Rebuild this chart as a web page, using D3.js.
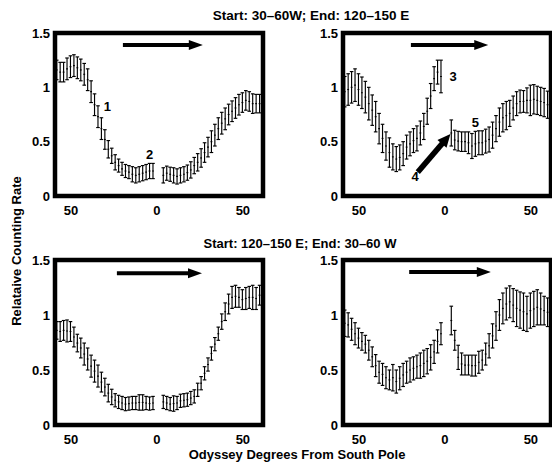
<!DOCTYPE html>
<html>
<head>
<meta charset="utf-8">
<script src="https://cdn.jsdelivr.net/npm/d3@7"></script>
<style>
  body { margin: 0; background: #fff; }
  text { font-family: "Liberation Sans", Arial, Helvetica, sans-serif; font-weight: bold; fill: #000; }
</style>
</head>
<body>
<div id="chart"></div>
<script>
// degrees from south pole (west side negative), sampling of each segment
var latW = [-58,-56,-54,-52,-50,-48,-46,-44,-42,-40,-38,-36,-34,-32,-30,-28,-26,-24,-22,-20,-18,-16,-14,-12,-10,-8,-6,-4,-2];
var latE = [4,6,8,10,12,14,16,18,20,22,24,26,28,30,32,34,36,38,40,42,44,46,48,50,52,54,56,58,60];

// top left
var tlW    = [1.16,1.14,1.14,1.17,1.19,1.20,1.18,1.16,1.12,1.07,0.96,0.84,0.73,0.62,0.52,0.43,0.37,0.31,0.28,0.25,0.23,0.22,0.20,0.19,0.20,0.21,0.22,0.23,0.23];
var tlWerr = [0.09,0.09,0.09,0.10,0.10,0.10,0.10,0.10,0.10,0.10,0.10,0.10,0.10,0.10,0.09,0.08,0.07,0.07,0.06,0.06,0.06,0.06,0.07,0.07,0.07,0.07,0.07,0.07,0.07];
var tlE    = [0.19,0.21,0.20,0.19,0.18,0.19,0.20,0.215,0.24,0.28,0.31,0.35,0.40,0.45,0.50,0.56,0.62,0.67,0.71,0.75,0.78,0.81,0.84,0.86,0.88,0.87,0.85,0.85,0.85];
var tlEerr = [0.07,0.065,0.065,0.07,0.07,0.07,0.07,0.07,0.075,0.075,0.08,0.085,0.09,0.09,0.10,0.10,0.10,0.10,0.10,0.095,0.095,0.095,0.095,0.09,0.09,0.09,0.09,0.085,0.085];

// top right
var trW    = [0.96,0.98,1.00,1.02,0.98,0.95,0.91,0.85,0.79,0.73,0.62,0.53,0.46,0.40,0.36,0.34,0.355,0.39,0.45,0.48,0.51,0.53,0.58,0.64,0.78,0.92,1.08,1.14,1.10];
var trWerr = [0.14,0.145,0.145,0.15,0.145,0.145,0.145,0.15,0.14,0.14,0.14,0.13,0.13,0.135,0.12,0.115,0.115,0.11,0.11,0.11,0.11,0.115,0.11,0.12,0.12,0.115,0.11,0.11,0.15];
var trE    = [0.58,0.515,0.505,0.50,0.50,0.49,0.46,0.48,0.49,0.49,0.505,0.52,0.56,0.62,0.68,0.72,0.74,0.76,0.81,0.85,0.87,0.87,0.88,0.88,0.89,0.88,0.87,0.86,0.84];
var trEerr = [0.12,0.09,0.09,0.09,0.09,0.10,0.115,0.115,0.11,0.11,0.11,0.115,0.12,0.12,0.13,0.13,0.13,0.12,0.11,0.11,0.105,0.10,0.115,0.14,0.135,0.13,0.13,0.13,0.125];

// bottom left
var blW    = [0.86,0.85,0.86,0.855,0.85,0.80,0.745,0.70,0.645,0.60,0.535,0.49,0.445,0.39,0.345,0.29,0.255,0.225,0.21,0.20,0.19,0.195,0.20,0.20,0.205,0.205,0.20,0.195,0.20];
var blWerr = [0.08,0.09,0.09,0.10,0.09,0.09,0.08,0.09,0.10,0.10,0.10,0.10,0.10,0.09,0.08,0.08,0.07,0.06,0.06,0.06,0.06,0.06,0.06,0.06,0.07,0.07,0.06,0.06,0.06];
var blE    = [0.21,0.20,0.19,0.195,0.20,0.22,0.225,0.23,0.245,0.26,0.32,0.38,0.47,0.55,0.65,0.735,0.83,0.94,1.03,1.10,1.16,1.17,1.16,1.14,1.15,1.16,1.16,1.15,1.18];
var blEerr = [0.06,0.06,0.06,0.07,0.06,0.06,0.06,0.06,0.06,0.06,0.06,0.06,0.06,0.06,0.06,0.06,0.06,0.07,0.08,0.09,0.10,0.10,0.09,0.09,0.10,0.10,0.11,0.10,0.09];

// bottom right
var brW    = [0.925,0.91,0.87,0.83,0.79,0.76,0.735,0.68,0.62,0.54,0.48,0.46,0.43,0.41,0.43,0.395,0.425,0.455,0.48,0.50,0.515,0.53,0.54,0.56,0.58,0.615,0.665,0.76,0.83];
var brWerr = [0.12,0.11,0.10,0.10,0.09,0.08,0.08,0.09,0.09,0.10,0.10,0.10,0.10,0.09,0.12,0.105,0.105,0.105,0.10,0.11,0.105,0.105,0.115,0.12,0.115,0.115,0.105,0.105,0.10];
var brE    = [0.95,0.77,0.615,0.555,0.545,0.545,0.54,0.54,0.57,0.59,0.645,0.72,0.81,0.90,1.00,1.06,1.10,1.12,1.09,1.06,1.045,1.03,1.01,1.04,1.055,1.07,1.055,1.04,1.025];
var brEerr = [0.13,0.09,0.11,0.10,0.09,0.09,0.095,0.095,0.10,0.09,0.10,0.11,0.11,0.13,0.14,0.14,0.145,0.145,0.15,0.165,0.165,0.17,0.16,0.16,0.16,0.16,0.145,0.13,0.13];

var yTicks = [0, 0.5, 1, 1.5];
var xTicks = [-50, 0, 50];
var titles = ["Start: 30\u201360W; End: 120\u2013150 E", "Start: 120\u2013150 E; End: 30\u201360 W"];

// direction arrows, [lat, rate] start and end
var arrows = [
  [[-19.5, 1.39], [27, 1.39]],
  [[-19.5, 1.39], [25.5, 1.39]],
  [[-23, 1.38], [26.5, 1.38]],
  [[-20.5, 1.39], [27, 1.39]]
];
// numbered notes: panel, lat, rate, label
var notes = [
  [0, -28.5, 0.82, "1"], [0, -4, 0.38, "2"],
  [1, 5, 1.10, "3"], [1, -17, 0.18, "4"], [1, 18, 0.68, "5"]
];
var arrow4 = [[-15.5, 0.22], [3.5, 0.57]];

var W = 552, H = 462;
var svg = d3.select("#chart").append("svg")
  .attr("width", W).attr("height", H);

var panels = [
  {x: 55,  y: 33,  w: 208, h: 163, west: [tlW, tlWerr], east: [tlE, tlEerr]},
  {x: 343, y: 33,  w: 208, h: 163, west: [trW, trWerr], east: [trE, trEerr]},
  {x: 55,  y: 260, w: 208, h: 165, west: [blW, blWerr], east: [blE, blEerr]},
  {x: 343, y: 260, w: 208, h: 165, west: [brW, brWerr], east: [brE, brEerr]}
];

panels.forEach(function(p, i) {
  var g = svg.append("g").attr("transform", "translate(" + p.x + "," + p.y + ")");
  var x = d3.scaleLinear().domain([-59, 62]).range([0, p.w]);
  var y = d3.scaleLinear().domain([0, 1.5]).range([p.h, 0]);

  // axes, labels only
  var ya = g.append("g")
    .call(d3.axisLeft(y).tickValues(yTicks).tickSize(0).tickPadding(5).tickFormat(d3.format("~g")));
  var xa = g.append("g").attr("transform", "translate(0," + p.h + ")")
    .call(d3.axisBottom(x).tickValues(xTicks).tickSize(0).tickPadding(10)
      .tickFormat(function(d) { return Math.abs(d); }));
  [ya, xa].forEach(function(a) {
    a.select(".domain").remove();
    a.selectAll("text").style("font-size", "13px").style("font-family", null);
  });

  // error bars
  var pts = [];
  latW.forEach(function(l, k) { pts.push({lat: l, v: p.west[0][k], e: p.west[1][k]}); });
  latE.forEach(function(l, k) { pts.push({lat: l, v: p.east[0][k], e: p.east[1][k]}); });

  var bars = g.append("g").attr("stroke", "#000").attr("stroke-width", 1.15)
    .selectAll("g").data(pts).enter().append("g");
  bars.append("line")
    .attr("x1", function(d) { return x(d.lat); }).attr("x2", function(d) { return x(d.lat); })
    .attr("y1", function(d) { return y(d.v - d.e); }).attr("y2", function(d) { return y(d.v + d.e); });
  bars.append("line")
    .attr("x1", function(d) { return x(d.lat) - 1.8; }).attr("x2", function(d) { return x(d.lat) + 1.8; })
    .attr("y1", function(d) { return y(d.v + d.e); }).attr("y2", function(d) { return y(d.v + d.e); });
  bars.append("line")
    .attr("x1", function(d) { return x(d.lat) - 1.8; }).attr("x2", function(d) { return x(d.lat) + 1.8; })
    .attr("y1", function(d) { return y(d.v - d.e); }).attr("y2", function(d) { return y(d.v - d.e); });
  bars.append("line")
    .attr("x1", function(d) { return x(d.lat) - 0.9; }).attr("x2", function(d) { return x(d.lat) + 0.9; })
    .attr("y1", function(d) { return y(d.v); }).attr("y2", function(d) { return y(d.v); });

  // thick frame
  g.append("rect").attr("width", p.w).attr("height", p.h)
    .attr("fill", "none").attr("stroke", "#000").attr("stroke-width", 4.5);

  // direction arrow
  drawArrow(g, x(arrows[i][0][0]), y(arrows[i][0][1]), x(arrows[i][1][0]), y(arrows[i][1][1]), 4, 14, 5);

  notes.filter(function(n) { return n[0] === i; }).forEach(function(n) {
    g.append("text").attr("x", x(n[1])).attr("y", y(n[2])).attr("dy", "0.35em")
      .attr("text-anchor", "middle").style("font-size", "13px").text(n[3]);
  });
  if (i === 1) {
    drawArrow(g, x(arrow4[0][0]), y(arrow4[0][1]), x(arrow4[1][0]), y(arrow4[1][1]), 5.5, 13, 6);
  }
});

function drawArrow(g, x1, y1, x2, y2, thick, headLen, headHalf) {
  var ang = Math.atan2(y2 - y1, x2 - x1);
  var len = Math.sqrt((x2 - x1) * (x2 - x1) + (y2 - y1) * (y2 - y1));
  var a = g.append("g").attr("transform", "translate(" + x1 + "," + y1 + ") rotate(" + (ang * 180 / Math.PI) + ")");
  a.append("line").attr("x1", 0).attr("y1", 0).attr("x2", len - headLen + 1).attr("y2", 0)
    .attr("stroke", "#000").attr("stroke-width", thick);
  a.append("path")
    .attr("d", "M" + len + ",0L" + (len - headLen) + "," + (-headHalf) + "L" + (len - headLen) + "," + headHalf + "Z")
    .attr("fill", "#000");
}

// titles
svg.append("text").attr("x", 311).attr("y", 15).attr("dy", "0.35em").attr("text-anchor", "middle")
  .style("font-size", "13.5px").text(titles[0]);
svg.append("text").attr("x", 300).attr("y", 243).attr("dy", "0.35em").attr("text-anchor", "middle")
  .style("font-size", "13px").text(titles[1]);
svg.append("text").attr("x", 297).attr("y", 454).attr("dy", "0.35em").attr("text-anchor", "middle")
  .style("font-size", "13px").text("Odyssey Degrees From South Pole");
svg.append("text").attr("transform", "translate(16,251) rotate(-90)").attr("dy", "0.35em")
  .attr("text-anchor", "middle").style("font-size", "13px").text("Relataive Counting Rate");
</script>
</body>
</html>
